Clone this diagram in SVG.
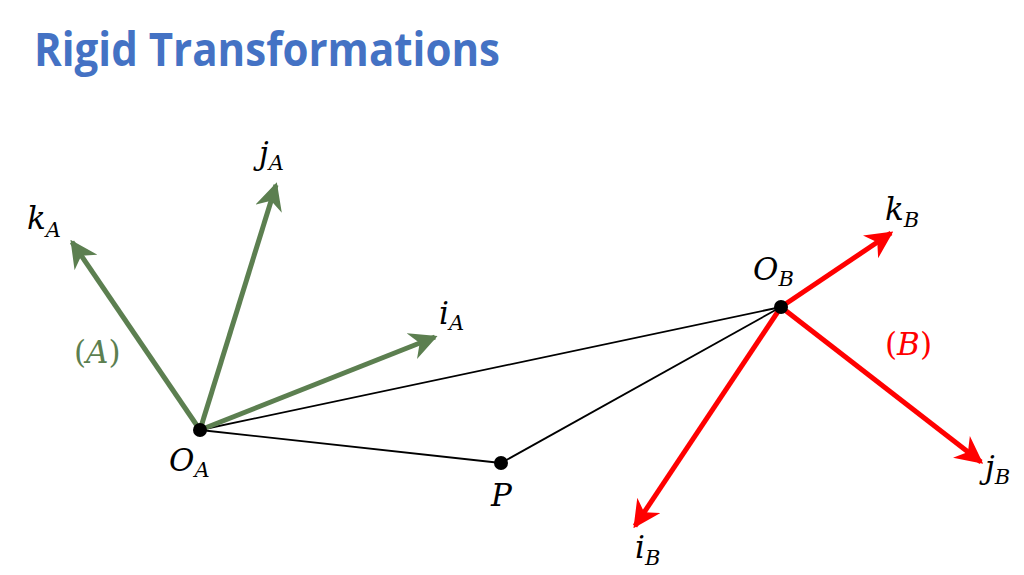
<svg xmlns="http://www.w3.org/2000/svg" width="1024" height="575" viewBox="0 0 1024 575">
<style>
.title{font-family:"Open Sans","Liberation Sans",sans-serif;font-weight:bold;font-size:46px;fill:#4472C4}
.lbl{font-family:"DejaVu Serif","Liberation Serif",serif;font-style:italic;font-size:31px;fill:#000}
.sub{font-size:21px}
.ga{stroke:#5C7F50;stroke-width:5;fill:none}
.rb{stroke:#FF0000;stroke-width:5;fill:none}
.blk{stroke:#000;stroke-width:1.8;fill:none}
</style>
<defs>
<marker id="mg" viewBox="0 0 10 10" refX="9" refY="5" markerWidth="5.5" markerHeight="5.5" orient="auto" markerUnits="strokeWidth">
<path d="M0,0 L10,5 L0,10 L3,5 Z" fill="#5C7F50"/>
</marker>
<marker id="mr" viewBox="0 0 10 10" refX="9" refY="5" markerWidth="5.5" markerHeight="5.5" orient="auto" markerUnits="strokeWidth">
<path d="M0,0 L10,5 L0,10 L3,5 Z" fill="#FF0000"/>
</marker>
</defs>
<text class="title" x="34" y="66" textLength="466" lengthAdjust="spacingAndGlyphs">Rigid Transformations</text>
<g id="connectors">
<line class="blk" x1="200" y1="430" x2="781" y2="307"/>
<line class="blk" x1="200" y1="430" x2="501" y2="463"/>
<line class="blk" x1="501" y1="463" x2="781" y2="307"/>
<line class="ga" x1="200" y1="430" x2="72" y2="242" marker-end="url(#mg)"/>
<line class="ga" x1="200" y1="430" x2="276" y2="185" marker-end="url(#mg)"/>
<line class="ga" x1="200" y1="430" x2="435" y2="337" marker-end="url(#mg)"/>
<line class="rb" x1="781" y1="307" x2="891" y2="233" marker-end="url(#mr)"/>
<line class="rb" x1="781" y1="307" x2="981" y2="462" marker-end="url(#mr)"/>
<line class="rb" x1="781" y1="307" x2="635" y2="526" marker-end="url(#mr)"/>
</g>
<g id="frameA">
<text class="lbl" x="27" y="229">k<tspan class="sub" dy="8">A</tspan></text>
<text class="lbl" x="259" y="164">j<tspan class="sub" dy="6">A</tspan></text>
<text class="lbl" x="439" y="324">i<tspan class="sub" dy="6">A</tspan></text>
<text class="lbl" x="74" y="363" style="fill:#5C7F50;font-style:normal">(<tspan style="font-style:italic">A</tspan>)</text>
</g>
<g id="OA">
<circle cx="200" cy="430" r="7" fill="#000"/>
<text class="lbl" x="169" y="471">O<tspan class="sub" dy="6">A</tspan></text>
</g>
<g id="P">
<circle cx="501" cy="463" r="7" fill="#000"/>
<text class="lbl" x="491" y="506">P</text>
</g>
<g id="OB">
<circle cx="781" cy="307" r="7" fill="#000"/>
<text class="lbl" x="753" y="280">O<tspan class="sub" dy="6">B</tspan></text>
</g>
<g id="frameB">
<text class="lbl" x="885" y="220">k<tspan class="sub" dy="7">B</tspan></text>
<text class="lbl" x="985" y="478">j<tspan class="sub" dy="6">B</tspan></text>
<text class="lbl" x="635" y="558">i<tspan class="sub" dy="7">B</tspan></text>
<text class="lbl" x="885" y="355" style="fill:#FF0000;font-style:normal">(<tspan style="font-style:italic">B</tspan>)</text>
</g>
</svg>
